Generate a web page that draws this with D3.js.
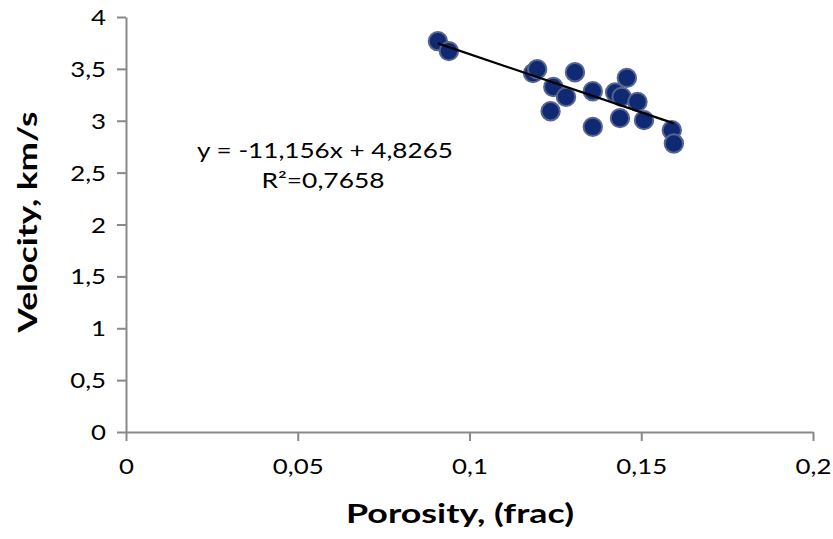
<!DOCTYPE html>
<html><head><meta charset="utf-8">
<script src="https://cdn.jsdelivr.net/npm/d3@7"></script>
<style>body{margin:0;background:#fff;}svg{display:block;}</style>
</head><body>
<svg id="chart" width="833" height="539"></svg>
<script>
const porosity = [0.0908,0.0940,0.1185,0.1197,0.1307,0.1458,0.1244,0.1281,0.1359,0.1424,0.1443,0.1489,0.1236,0.1359,0.1438,0.1508,0.1589,0.1595];
const velocity = [3.767,3.671,3.459,3.497,3.468,3.413,3.326,3.230,3.285,3.273,3.230,3.182,3.092,2.941,3.025,3.006,2.909,2.781];
// trendline end points as drawn in the picture
const trendX = [0.0908,0.1595];
const trendY = [3.746,2.975];
const xTicks = [0,0.05,0.1,0.15,0.2];
const xTickLabels = ["0","0,05","0,1","0,15","0,2"];
const yTicks = [0,0.5,1,1.5,2,2.5,3,3.5,4];
const yTickLabels = ["0","0,5","1","1,5","2","2,5","3","3,5","4"];
const eqText = "y = -11,156x + 4,8265";
const r2Text = "R²=0,7658";
const xTitle = "Porosity, (frac)";
const yTitle = "Velocity, km/s";

const svg = d3.select("#chart");
const font = "Lato, 'Open Sans', sans-serif";
const x = d3.scaleLinear().domain([0,0.2]).range([126,813]);
const y = d3.scaleLinear().domain([0,4]).range([432,17]);
const axisColor = "#898989";
const sx = 1.23;

const xAxis = svg.append("g").attr("transform","translate(0,432)")
  .call(d3.axisBottom(x).tickValues(xTicks).tickFormat((d,i)=>xTickLabels[i]).tickSize(9).tickSizeOuter(0));
const yAxis = svg.append("g").attr("transform","translate(126,0)")
  .call(d3.axisLeft(y).tickValues(yTicks).tickFormat((d,i)=>yTickLabels[i]).tickSize(9).tickSizeOuter(0));
[xAxis,yAxis].forEach(g=>{
  g.selectAll("path,line").attr("stroke",axisColor).attr("stroke-width",2);
  g.selectAll("text").attr("fill","#000").style("font-family",font).style("font-size","21px")
    .attr("transform",`scale(${sx},1)`);
});
xAxis.selectAll("text").attr("y",42).attr("dy",0);
yAxis.selectAll("text").attr("x",-20/sx).attr("dy","0.36em");

// points
svg.append("g").selectAll("circle").data(porosity).join("circle")
  .attr("cx",(d)=>x(d)).attr("cy",(d,i)=>y(velocity[i])).attr("r",9.2)
  .attr("fill","#0f2a72").attr("stroke","#56658f").attr("stroke-width",2);

// trendline
svg.append("line")
  .attr("x1",x(trendX[0])).attr("y1",y(trendY[0]))
  .attr("x2",x(trendX[1])).attr("y2",y(trendY[1]))
  .attr("stroke","#000").attr("stroke-width",2.2);

function stretchedText(transform, str, size, weight, targetW){
  const g = svg.append("g").attr("transform",transform);
  const t = g.append("text").attr("text-anchor","middle")
    .style("font-family",font).style("font-size",size+"px").style("font-weight",weight).text(str);
  const w = t.node().getComputedTextLength();
  t.attr("transform",`scale(${targetW/w},1)`);
  return t;
}
stretchedText("translate(325,158)", eqText, 21, "normal", 256);
stretchedText("translate(323,188)", r2Text, 21, "normal", 123);
stretchedText("translate(460,523)", xTitle, 26, "bold", 228);
stretchedText("translate(37,222) rotate(-90)", yTitle, 26, "bold", 221);
</script>
</body></html>
